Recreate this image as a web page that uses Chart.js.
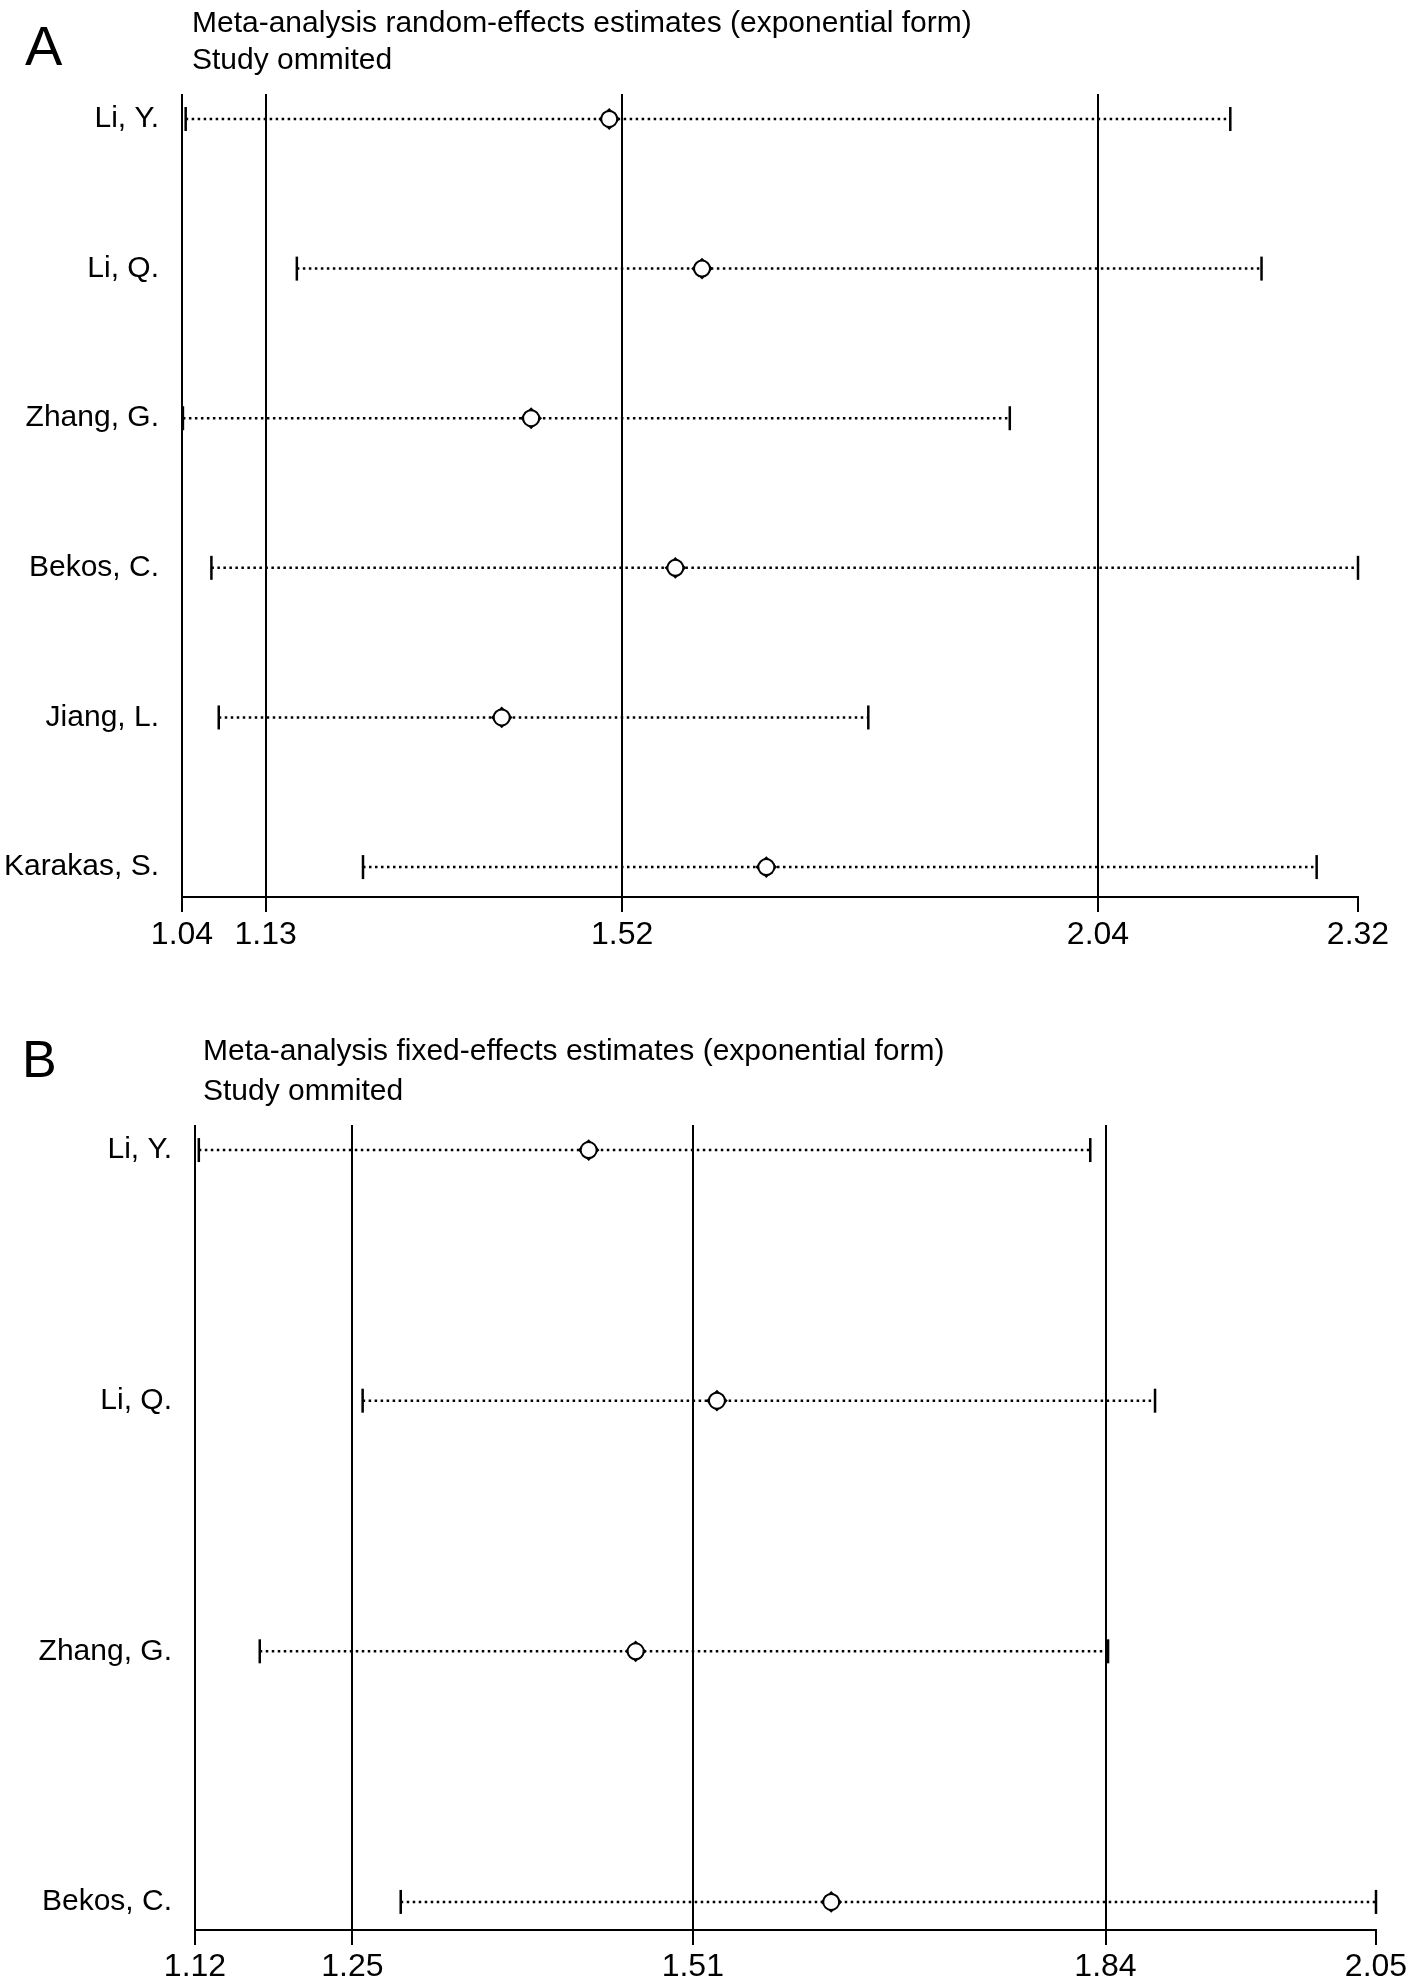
<!DOCTYPE html>
<html>
<head>
<meta charset="utf-8">
<script src="https://cdn.jsdelivr.net/npm/chart.js@4.4.1/dist/chart.umd.min.js"></script>
<style>
body { margin: 0; background: #fff; width: 1416px; height: 1978px; position: relative; overflow: hidden;
       font-family: "Liberation Sans", Arial, sans-serif; color: #000; }
canvas { position: absolute; left: 0; }
.txt { position: absolute; white-space: nowrap; line-height: 1; }
</style>
</head>
<body>
<canvas id="chartA" width="1416" height="980" style="top:0"></canvas>
<canvas id="chartB" width="1416" height="978" style="top:1000px"></canvas>

<div class="txt" style="left:25px;top:18px;font-size:56px">A</div>
<div class="txt" style="left:192px;top:7px;font-size:30px">Meta-analysis random-effects estimates (exponential form)</div>
<div class="txt" style="left:192px;top:44px;font-size:30px">Study ommited</div>

<div class="txt" style="left:22px;top:1033px;font-size:52px">B</div>
<div class="txt" style="left:203px;top:1035px;font-size:30px">Meta-analysis fixed-effects estimates (exponential form)</div>
<div class="txt" style="left:203px;top:1075px;font-size:30px">Study ommited</div>

<script>
// panel A: random effects, study omitted
const studiesA = ['Li, Y.', 'Li, Q.', 'Zhang, G.', 'Bekos, C.', 'Jiang, L.', 'Karakas, S.'];
const lowerA = [1.044, 1.165, 1.041, 1.072, 1.080, 1.237];
const estA = [1.505, 1.606, 1.420, 1.577, 1.388, 1.676];
const upperA = [2.181, 2.215, 1.941, 2.320, 1.787, 2.275];
const tickValuesA = [1.04, 1.131, 1.519, 2.037, 2.32];
const tickLabelsA = ['1.04', '1.13', '1.52', '2.04', '2.32'];

// panel B: fixed effects, study omitted
const studiesB = ['Li, Y.', 'Li, Q.', 'Zhang, G.', 'Bekos, C.'];
const lowerB = [1.123, 1.252, 1.171, 1.282];
const estB = [1.430, 1.531, 1.467, 1.621];
const upperB = [1.825, 1.876, 1.839, 2.050];
const tickValuesB = [1.12, 1.244, 1.512, 1.837, 2.05];
const tickLabelsB = ['1.12', '1.25', '1.51', '1.84', '2.05'];

Chart.defaults.font.family = '"Liberation Sans", Arial, sans-serif';
Chart.defaults.color = '#000';

function forestChart(id, studies, lower, est, upper, tickValues, tickLabels, layout) {
    const xMin = tickValues[0];
    const xMax = tickValues[tickValues.length - 1];

    const ciSets = studies.map((s, i) => ({
        label: s,
        data: [{ x: lower[i], y: i }, { x: upper[i], y: i }],
        showLine: true,
        borderColor: '#000',
        borderWidth: 2.5,
        borderDash: [2.5, 3.5],
        pointStyle: 'line',
        rotation: 90,
        pointRadius: 12,
        pointBorderWidth: 2.5,
        pointBorderColor: '#000',
        clip: false,
        order: 2,
    }));

    const points = est.map((v, i) => ({ x: v, y: i }));

    new Chart(document.getElementById(id), {
        type: 'scatter',
        data: {
            datasets: [
                {
                    label: 'estimate',
                    data: points,
                    pointStyle: 'circle',
                    pointRadius: 8,
                    pointBackgroundColor: '#fff',
                    pointBorderColor: '#000',
                    pointBorderWidth: 2,
                    clip: false,
                    order: 0,
                },
                {
                    label: 'estimate tips',
                    data: points,
                    pointStyle: 'rectRot',
                    pointRadius: 9.5,
                    pointBackgroundColor: '#fff',
                    pointBorderColor: '#000',
                    pointBorderWidth: 2,
                    clip: false,
                    order: 1,
                },
                ...ciSets,
            ],
        },
        options: {
            responsive: false,
            animation: false,
            events: [],
            layout: { padding: { top: layout.top, right: layout.right, bottom: 0, left: 0 } },
            plugins: { legend: { display: false }, tooltip: { enabled: false } },
            scales: {
                x: {
                    type: 'linear',
                    min: xMin,
                    max: xMax,
                    afterFit(scale) { scale.height = layout.xHeight; },
                    afterBuildTicks(scale) { scale.ticks = tickValues.map((v) => ({ value: v })); },
                    grid: {
                        color(ctx) {
                            return ctx.tick && ctx.tick.value >= xMax - 1e-9 ? 'rgba(0,0,0,0)' : '#000';
                        },
                        tickColor: '#000',
                        lineWidth: 2,
                        tickLength: 15,
                    },
                    border: { display: true, color: '#000', width: 2 },
                    ticks: {
                        font: { size: 32 },
                        padding: layout.tickPad,
                        autoSkip: false,
                        maxRotation: 0,
                        callback(value, index) { return tickLabels[index]; },
                    },
                },
                y: {
                    type: 'linear',
                    reverse: true,
                    min: layout.yMin,
                    max: layout.yMax,
                    afterFit(scale) { scale.width = layout.left; },
                    afterBuildTicks(scale) { scale.ticks = studies.map((s, i) => ({ value: i })); },
                    grid: { display: false, drawTicks: false },
                    border: { display: false },
                    ticks: {
                        font: { size: 30 },
                        padding: 23,
                        autoSkip: false,
                        callback(value) { return studies[value]; },
                    },
                },
            },
        },
    });
}

forestChart('chartA', studiesA, lowerA, estA, upperA, tickValuesA, tickLabelsA,
    { top: 94, right: 58, left: 182, xHeight: 980 - 897, tickPad: 4, yMin: -0.167, yMax: 5.2 });

forestChart('chartB', studiesB, lowerB, estB, upperB, tickValuesB, tickLabelsB,
    { top: 125, right: 40, left: 195, xHeight: 978 - 930, tickPad: 3, yMin: -0.1, yMax: 3.112 });
</script>
</body>
</html>
